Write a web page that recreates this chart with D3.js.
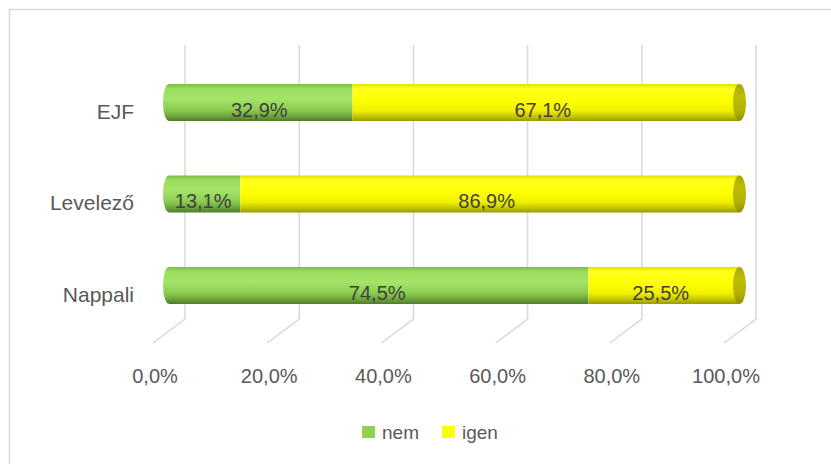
<!DOCTYPE html>
<html>
<head>
<meta charset="utf-8">
<script src="https://cdn.jsdelivr.net/npm/d3@7"></script>
<style>
body{margin:0;background:#fff;}
text{font-family:"Liberation Sans",Arial,sans-serif;}
</style>
</head>
<body>
<svg id="chart" width="831" height="464"></svg>
<script>
// adatok
var categories=["EJF","Levelező","Nappali"];
var nem=[32.9,13.1,74.5];
var igen=[67.1,86.9,25.5];
var ticks=[0,20,40,60,80,100];
var seriesNames=["nem","igen"];

var svg=d3.select("#chart");
var loc=d3.formatLocale({decimal:",",thousands:" ",grouping:[3],currency:["","Ft"]});
var fmt=loc.format(".1f");

// keret
svg.append("rect")
    .attr("x",9.5).attr("y",9.5)
    .attr("width",840).attr("height",470)
    .attr("fill","#fff")
    .attr("stroke","#d9d9d9")
    .attr("stroke-width",1.5);

// skálák: a rács a hátsó falon, az oszlopok elöl
var x=d3.scaleLinear().domain([0,100]).range([166,733]);
var gx=d3.scaleLinear().domain([0,100]).range([185,756]);
var y=d3.scalePoint().domain(categories).range([102.5,285.5]);
var barH=37;

// színátmenetek
var defs=svg.append("defs");
function grad(id,stops){
    var g=defs.append("linearGradient").attr("id",id)
        .attr("x1",0).attr("y1",0).attr("x2",0).attr("y2",1);
    stops.forEach(function(s){
        g.append("stop").attr("offset",s[0]).attr("stop-color",s[1]);
    });
}
grad("g_nem",[[0,"#7cbb44"],[0.12,"#9bdd5e"],[0.4,"#a4e468"],[0.7,"#8ccc50"],[0.88,"#6aa23c"],[1,"#4f7a2a"]]);
grad("g_igen",[[0,"#e0e000"],[0.12,"#ffff20"],[0.45,"#ffff00"],[0.72,"#f0f000"],[0.88,"#c4c400"],[1,"#999900"]]);
grad("g_cap",[[0,"#a8a800"],[0.3,"#bcbc00"],[0.7,"#b4b400"],[1,"#909000"]]);
var fills={"nem":"url(#g_nem)","igen":"url(#g_igen)"};
var legendColors={"nem":"#92d050","igen":"#ffff00"};

// rácsvonalak
var grid=svg.append("g");
grid.selectAll("path").data(ticks).enter().append("path")
    .attr("d",function(d){
        return "M"+gx(d)+",45 L"+gx(d)+",319 L"+(gx(d)-32)+",343";
    })
    .attr("fill","none")
    .attr("stroke","#d9d9d9")
    .attr("stroke-width",1.5);

// tengely feliratok
svg.append("g").selectAll("text").data(ticks).enter().append("text")
    .attr("x",function(d){return gx(d)-30;})
    .attr("y",383)
    .attr("text-anchor","middle")
    .attr("font-size",20)
    .attr("fill","#595959")
    .text(function(d){return fmt(d)+"%";});

// kategória feliratok
svg.append("g").selectAll("text").data(categories).enter().append("text")
    .attr("x",134)
    .attr("y",function(d){return y(d)+16;})
    .attr("text-anchor","end")
    .attr("font-size",21)
    .attr("fill","#595959")
    .text(function(d){return d;});

// halmozott hengerek
var rows=categories.map(function(c,i){
    return [
        {cat:c,name:"nem",v0:0,v1:nem[i],val:nem[i]},
        {cat:c,name:"igen",v0:nem[i],v1:nem[i]+igen[i],val:igen[i]}
    ];
});
var bars=svg.append("g");
rows.forEach(function(row){
    row.forEach(function(s,j){
        var top=y(s.cat)-barH/2, bot=y(s.cat)+barH/2;
        var x0=x(s.v0), x1=x(s.v1);
        var p;
        if(j==0){
            // bal vég lekerekítve
            p="M"+(x0+3)+","+top+" L"+x1+","+top+" L"+x1+","+bot+" L"+(x0+3)+","+bot+
              " A6,"+(barH/2)+" 0 0 1 "+(x0+3)+","+top+" Z";
        }else{
            p="M"+x0+","+top+" L"+(x1+6.5)+","+top+" L"+(x1+6.5)+","+bot+" L"+x0+","+bot+" Z";
        }
        bars.append("path").attr("d",p).attr("fill",fills[s.name]);
        if(j==row.length-1){
            bars.append("ellipse")
                .attr("cx",x1+6.5).attr("cy",y(s.cat))
                .attr("rx",6.5).attr("ry",barH/2)
                .attr("fill","url(#g_cap)");
        }
        bars.append("text")
            .attr("x",(x0+x1)/2)
            .attr("y",y(s.cat)+14)
            .attr("text-anchor","middle")
            .attr("font-size",20)
            .attr("fill","#404040")
            .text(fmt(s.val)+"%");
    });
});

// jelmagyarázat
var legX=[362,442];
var leg=svg.append("g");
seriesNames.forEach(function(n,i){
    leg.append("rect")
        .attr("x",legX[i]).attr("y",426)
        .attr("width",13).attr("height",12)
        .attr("fill",legendColors[n]);
    leg.append("text")
        .attr("x",legX[i]+20).attr("y",439)
        .attr("font-size",19)
        .attr("fill","#595959")
        .text(n);
});
</script>
</body>
</html>
